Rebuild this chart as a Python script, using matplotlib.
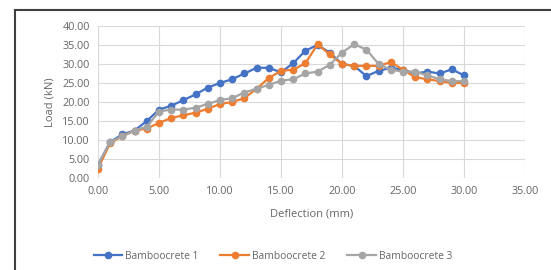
import matplotlib.pyplot as plt
from matplotlib.lines import Line2D

plt.rcParams['font.family'] = ['Open Sans', 'DejaVu Sans']

# deflection (mm) and load (kN)
deflection = list(range(0, 31))
load_1 = [3.5, 9.5, 11.5, 12.5, 15.0, 18.0, 19.0, 20.5, 22.0, 23.8, 25.0, 26.0,
          27.5, 29.0, 29.0, 27.8, 30.2, 33.5, 35.0, 33.0, 30.0, 29.5, 26.8, 28.2,
          29.0, 28.5, 27.5, 28.0, 27.5, 28.6, 27.0]
load_2 = [2.5, 9.2, 11.0, 12.5, 13.0, 14.5, 15.8, 16.5, 17.2, 18.2, 19.5, 20.0,
          21.0, 23.5, 26.3, 28.2, 28.5, 30.2, 35.2, 32.5, 30.0, 29.5, 29.5, 29.5,
          30.5, 28.5, 26.5, 26.0, 25.5, 25.0, 25.0]
load_3 = [3.5, 9.5, 11.0, 12.5, 13.5, 17.5, 18.0, 18.0, 18.5, 19.5, 20.5, 21.0,
          22.5, 23.5, 24.5, 25.6, 26.0, 27.5, 28.0, 29.8, 33.0, 35.2, 33.8, 30.0,
          28.5, 28.0, 28.0, 27.0, 26.0, 25.5, 25.5]
names = ['Bamboocrete 1', 'Bamboocrete 2', 'Bamboocrete 3']
colors = ['#4472C4', '#ED7D31', '#A5A5A5']

fig = plt.figure(figsize=(5.51, 2.70), dpi=100)
ax = fig.add_axes([98 / 551, 1 - 178 / 270, (525 - 98) / 551, (178 - 26) / 270])

for y, name, c in zip([load_1, load_2, load_3], names, colors):
    ax.plot(deflection, y, color=c, lw=1.6, marker='o', ms=4.5, label=name)

ax.set_xlim(0, 35)
ax.set_ylim(0, 40)
ax.set_xticks(range(0, 36, 5))
ax.set_yticks(range(0, 41, 5))
ax.set_xticklabels([f'{v:.2f}' for v in range(0, 36, 5)])
ax.set_yticklabels([f'{v:.2f}' for v in range(0, 41, 5)])
ax.grid(True, color='#D9D9D9', lw=0.8)
ax.set_axisbelow(True)
for s in ax.spines.values():
    s.set_visible(False)
ax.tick_params(length=0, labelsize=7.8, colors='#666666', pad=6)
ax.set_xlabel('Deflection (mm)', fontsize=8, color='#666666', labelpad=8)
ax.set_ylabel('Load (kN)', fontsize=8, color='#666666', labelpad=5)

ax.legend(loc='upper center', bbox_to_anchor=(0.41, -0.42), ncol=3, frameon=False,
          fontsize=7.4, labelcolor='#666666', handlelength=2.8, columnspacing=2.1,
          handletextpad=0.3)

# dark frame around the chart
fig.add_artist(Line2D([15 / 551, 1], [1 - 10 / 270, 1 - 10 / 270], color='#404040', lw=1.5))
fig.add_artist(Line2D([15 / 551, 15 / 551], [0, 1 - 10 / 270], color='#404040', lw=1.5))

fig.savefig('out.png', dpi=100)
